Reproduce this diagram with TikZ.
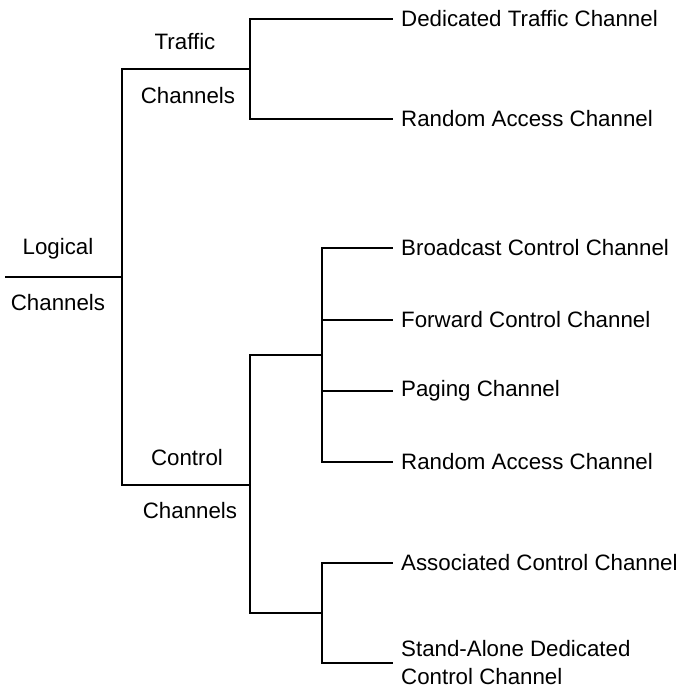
\documentclass[tikz,border=0pt]{standalone}
\usepackage{fontspec}
\setmainfont{Liberation Sans}
\begin{document}
\begin{tikzpicture}[x=1pt,y=-1pt,
  line/.style={line width=1.4pt,black},
  leaf/.style={anchor=west,inner xsep=8pt,inner ysep=0pt,font=\fontsize{22.3}{28}\selectfont,align=left},
  lbl/.style={inner sep=0pt,font=\fontsize{22.3}{28}\selectfont}]
\useasboundingbox (0,0) rectangle (678,688);
% junction coordinates
\coordinate (root) at (5,277);
\coordinate (j1) at (122,277);
\coordinate (jt) at (250,69);
\coordinate (jc) at (250,485);
\coordinate (jc1) at (322,355);
\coordinate (jc2) at (322,613);
% leaves
\node[leaf] (dtc) at (393,19) {Dedicated Traffic Channel};
\node[leaf] (rac1) at (393,119) {Random Access Channel};
\node[leaf] (bcc) at (393,248) {Broadcast Control Channel};
\node[leaf] (fcc) at (393,320) {Forward Control Channel};
\node[leaf] (pch) at (393,391) {Paging Channel};
\node[leaf] (rac2) at (393,462) {Random Access Channel};
\node[leaf] (acc) at (393,563) {Associated Control Channel};
\node[leaf] (sdcc) at (393,663) {Stand-Alone Dedicated\\Control Channel};
% labels
\node[lbl] (lg1) at (58,249) {Logical};
\node[lbl] (lg2) at (58,303) {Channels};
\node[lbl] (tr1) at (185,42) {Traffic};
\node[lbl] (tr2) at (188,96) {Channels};
\node[lbl] (co1) at (187,458) {Control};
\node[lbl] (co2) at (190,511) {Channels};
% connectors
\draw[line] (root) -- (j1);
\draw[line] (j1) |- (jt);
\draw[line] (j1) |- (jc);
\draw[line] (jt) |- (dtc.west);
\draw[line] (jt) |- (rac1.west);
\draw[line] (jc) |- (jc1);
\draw[line] (jc) |- (jc2);
\draw[line] (jc1) |- (bcc.west);
\draw[line] (jc1) |- (fcc.west);
\draw[line] (jc1) |- (pch.west);
\draw[line] (jc1) |- (rac2.west);
\draw[line] (jc2) |- (acc.west);
\draw[line] (jc2) |- (sdcc.west);
\end{tikzpicture}
\end{document}
